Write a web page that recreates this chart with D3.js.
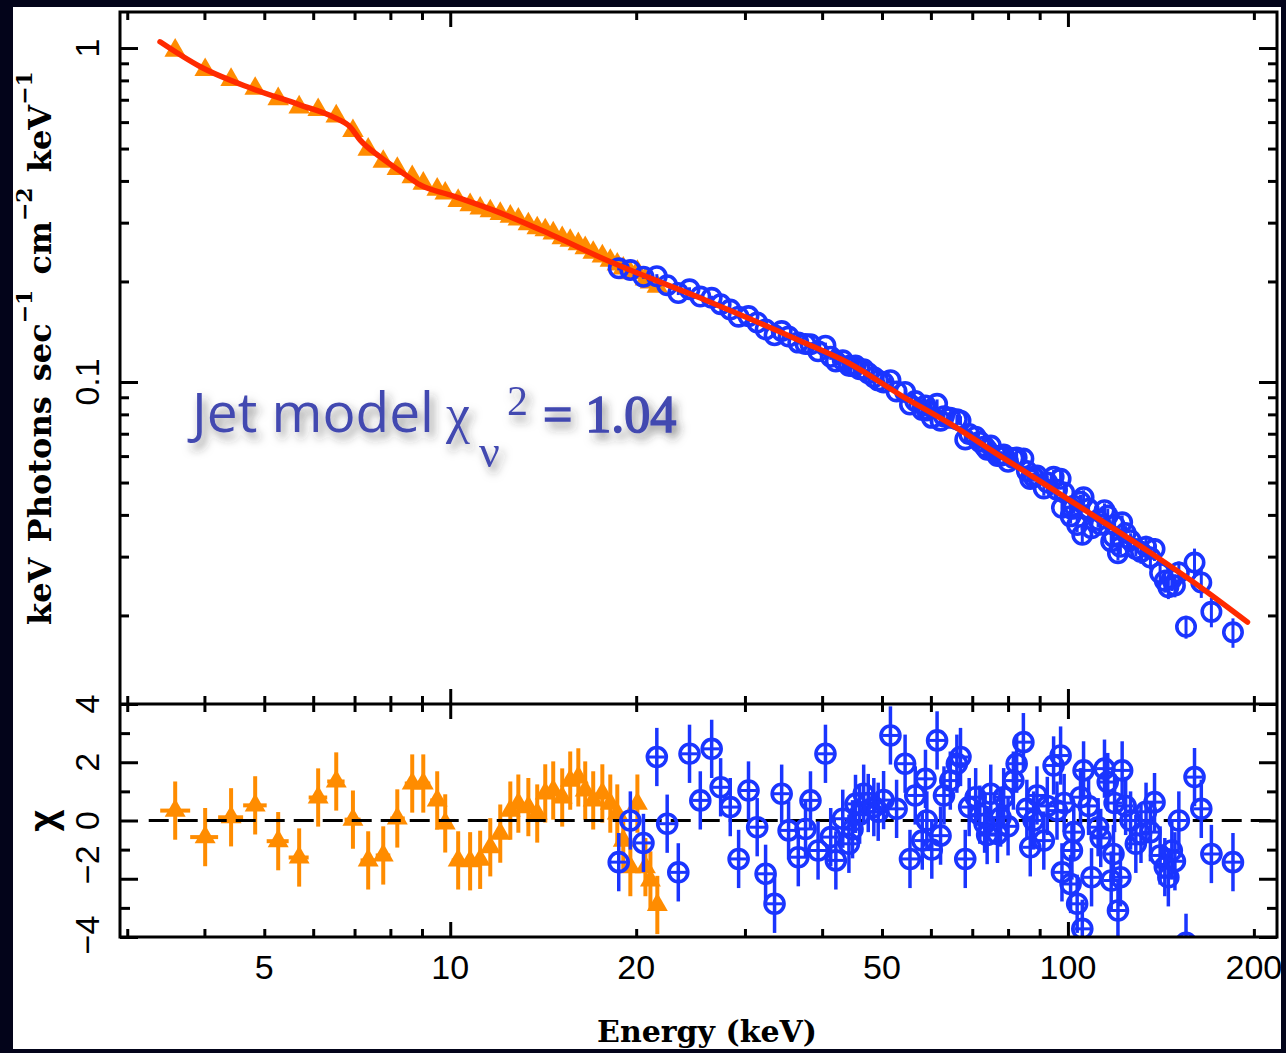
<!DOCTYPE html>
<html>
<head>
<meta charset="utf-8">
<script src="https://cdn.jsdelivr.net/npm/d3@7"></script>
<style>
  html, body { margin: 0; padding: 0; background: #03041a; }
  svg { display: block; }
</style>
</head>
<body>
<script>
// ---- Spectrum data -------------------------------------------------------
// Low-energy instrument (orange triangles): energy (keV), flux, residual (chi)
const lowEnergy = [3.587, 4.011, 4.418, 4.833, 5.266, 5.694, 6.112, 6.538, 6.958, 7.365,
  7.790, 8.209, 8.679, 9.044, 9.526, 9.815, 10.30, 10.77, 11.18, 11.61,
  12.05, 12.51, 12.89, 13.38, 13.83, 14.25, 14.68, 15.18, 15.64, 16.12,
  16.54, 17.04, 17.63, 18.16, 18.64, 19.06, 19.57, 20.09, 20.70, 21.09, 21.64];
const lowFlux = [0.983, 0.860, 0.804, 0.756, 0.704, 0.665, 0.653, 0.625, 0.565, 0.497,
  0.457, 0.435, 0.411, 0.393, 0.377, 0.367, 0.349, 0.339, 0.331, 0.325,
  0.319, 0.313, 0.307, 0.297, 0.289, 0.285, 0.279, 0.270, 0.265, 0.259,
  0.252, 0.244, 0.238, 0.231, 0.225, 0.219, 0.212, 0.214, 0.203, 0.199, 0.193];
const lowChi = [0.34, -0.57, 0.11, 0.52, -0.71, -1.27, 0.79, 1.34, 0.03, -1.37,
  -1.20, 0.07, 1.27, 1.27, 0.69, -0.10, -1.37, -1.40, -1.35, -0.92,
  -0.45, 0.34, 0.58, 0.46, 0.24, 0.93, 1.03, 0.79, 1.37, 1.48,
  1.03, 0.69, 0.93, 0.58, 0.24, -0.69, -1.60, 0.58, -1.60, -2.06, -2.90];
const lowRelErr = 0.014;

// High-energy instrument (blue circles)
const highEnergy = [18.74, 19.57, 20.55, 21.6, 22.45, 23.4, 24.4, 25.4, 26.5, 27.4,
  28.4, 29.3, 30.4, 31.4, 32.4, 33.5, 34.4, 35.3, 36.6, 37.6,
  38.3, 39.4, 40.5, 41.3, 42.1, 43.2, 44.2, 44.8, 45.3, 46.0,
  46.7, 47.5, 48.5, 49.3, 50.3, 51.6, 52.8, 54.5, 55.5, 56.6,
  58.1, 58.8, 59.1, 60.2, 61.4, 62.2, 63.0, 64.5, 66.1, 67.0,
  68.2, 69.2, 70.9, 72.0, 73.3, 74.0, 75.0, 76.9, 77.8, 78.7,
  80.0, 81.6, 82.6, 84.7, 85.8, 86.9, 88.0, 89.1, 91.4, 92.6,
  94.8, 96.0, 97.3, 97.8, 98.6, 101.0, 101.5, 102.2, 103.5, 104.8,
  105.5, 106.0, 108.0, 109.2, 111.9, 113.0, 114.6, 116.0, 117.5, 118.5,
  119.0, 120.5, 121.6, 122.4, 124.0, 126.3, 128.8, 131.3, 133.8, 136.0,
  138.1, 141.0, 143.5, 145.4, 147.3, 149.0, 151.2, 155.3, 160.3, 164.4, 170.7, 185.0];
const highFlux = [0.2190, 0.2164, 0.2066, 0.2074, 0.1949, 0.1847, 0.1895, 0.1802, 0.1787, 0.1710,
  0.1648, 0.1569, 0.1575, 0.1507, 0.1437, 0.1380, 0.1421, 0.1368, 0.1312, 0.1300,
  0.1297, 0.1236, 0.1285, 0.1190, 0.1152, 0.1161, 0.1119, 0.1114, 0.1121, 0.1092,
  0.1091, 0.1062, 0.1034, 0.1011, 0.0996, 0.1013, 0.0937, 0.0934, 0.0856, 0.0877,
  0.0825, 0.0851, 0.0822, 0.0781, 0.0860, 0.0766, 0.0789, 0.0781, 0.0773, 0.0766,
  0.0673, 0.0699, 0.0686, 0.0662, 0.0641, 0.0627, 0.0645, 0.0600, 0.0602, 0.0607,
  0.0577, 0.0592, 0.0594, 0.0590, 0.0541, 0.0512, 0.0519, 0.0525, 0.0480, 0.0500,
  0.0520, 0.0476, 0.0513, 0.0420, 0.0467, 0.0396, 0.0417, 0.0426, 0.0373, 0.0438,
  0.0349, 0.0452, 0.0417, 0.0365, 0.0386, 0.0374, 0.0413, 0.0398, 0.0333, 0.0344,
  0.0373, 0.0307, 0.0321, 0.0380, 0.0353, 0.0336, 0.0316, 0.0310, 0.0321, 0.0298,
  0.0316, 0.0268, 0.0254, 0.0243, 0.0257, 0.0246, 0.0269, 0.0185, 0.0288, 0.0251, 0.0205, 0.0178];
const highChi = [-1.43, 0.00, -0.77, 2.18, -0.11, -1.78, 2.29, 0.69, 2.46, 1.14,
  0.46, -1.32, 1.03, -0.23, -1.83, -2.86, 0.92, -0.34, -1.26, -0.29,
  0.69, -1.03, 2.29, -0.57, -1.37, 0.06, -0.80, -0.30, 0.57, 0.20,
  0.92, 0.60, 0.46, 0.30, 0.70, 2.92, 0.40, 1.95, -1.32, 0.86,
  -0.69, 1.43, 0.00, -1.00, 2.75, -0.52, 0.86, 1.37, 1.95, 2.18,
  -1.32, 0.46, 0.80, 0.20, -0.11, -0.50, 0.92, -0.46, 0.10, 0.80,
  -0.20, 1.37, 1.95, 2.69, 0.40, -0.92, 0.00, 0.86, -0.69, 0.50,
  1.89, 0.34, 2.23, -1.78, 0.60, -2.18, -1.03, -0.40, -2.86, 0.80,
  -3.72, 1.72, 0.50, -1.95, -0.23, -0.60, 1.78, 1.32, -2.06, -1.15,
  0.60, -3.09, -1.95, 1.72, 0.50, 0.00, -0.80, -0.46, 0.30, -0.40,
  0.63, -1.20, -1.60, -1.95, -1.03, -1.40, 0.00, -4.20, 1.49, 0.40, -1.15, -1.43];
// Relative flux error of the high-energy points, by upper energy of the band
const highErrBandEdge = [40, 60, 90, 130, 160, 250];
const highErrBandRel = [0.014, 0.021, 0.031, 0.049, 0.079, 0.101];

// Best-fit jet model curve
const modelEnergy = [3.39, 3.94, 4.75, 5.72, 6.47, 6.89, 7.15, 7.70, 8.39, 8.94,
  10.0, 12.05, 14.52, 18.16, 25.41, 30.60, 36.88, 44.44, 53.55, 64.5,
  77.7, 93.7, 112.9, 136.0, 163.9, 195.3];
const modelFlux = [1.044, 0.879, 0.759, 0.675, 0.621, 0.580, 0.530, 0.472, 0.422, 0.389,
  0.363, 0.321, 0.277, 0.229, 0.1784, 0.1544, 0.1327, 0.1132, 0.0914, 0.0749,
  0.0600, 0.0482, 0.0386, 0.0308, 0.0243, 0.0191];

// Axis ticks and labels
const energyMinorTicks = [3, 4, 5, 6, 7, 8, 9, 20, 30, 40, 50, 60, 70, 80, 90, 200];
const energyMajorTicks = [10, 100];
const energyTickLabels = [5, 10, 20, 50, 100, 200];
const fluxMajorTicks = [1, 0.1];
const fluxMinorTicks = [0.02, 0.03, 0.04, 0.05, 0.06, 0.07, 0.08, 0.09,
  0.2, 0.3, 0.4, 0.5, 0.6, 0.7, 0.8, 0.9];
const fluxTickLabels = ["1", "0.1"];
const chiMajorTicks = [4, 2, 0, -2, -4];
const chiMinorTicks = [-3, -1, 1, 3];
const chiTickLabels = ["4", "2", "0", "\u22122", "\u22124"];

// ---- Layout ---------------------------------------------------------------
const W = 1286, H = 1053;
const pL = 120, pR = 1277, pT = 12, pM = 704, pB = 937;
const ORANGE = "#ff8c00", BLUE = "#1a35ff", RED = "#ff2a00";

const svg = d3.select("body").append("svg")
  .attr("width", W).attr("height", H);

const defs = svg.append("defs");
defs.append("clipPath").attr("id", "page")
  .append("rect").attr("x", 13).attr("y", 7).attr("width", 1268).attr("height", 1042);
defs.append("clipPath").attr("id", "upper")
  .append("rect").attr("x", pL).attr("y", pT).attr("width", pR - pL).attr("height", pM - pT);
defs.append("clipPath").attr("id", "lower")
  .append("rect").attr("x", pL).attr("y", pM).attr("width", pR - pL).attr("height", pB - pM);
const shadow = defs.append("filter").attr("id", "shadow")
  .attr("x", "-10%").attr("y", "-30%").attr("width", "130%").attr("height", "180%");
shadow.append("feDropShadow").attr("dx", 4).attr("dy", 6).attr("stdDeviation", 5)
  .attr("flood-color", "#333").attr("flood-opacity", 0.55);

svg.append("rect").attr("width", W).attr("height", H).attr("fill", "#03041a");
const page = svg.append("g").attr("clip-path", "url(#page)");
page.append("rect").attr("x", 13).attr("y", 7).attr("width", 1268).attr("height", 1042).attr("fill", "#fff");

// ---- Scales ---------------------------------------------------------------
const x = d3.scaleLog().domain([2.92, 218]).range([pL, pR]);
const yF = d3.scaleLog().domain([0.01086, 1.282]).range([pM, pT]);
const yC = d3.scaleLinear().domain([-4, 4]).range([pB, pM]);

// Bin edges half-way (in log space) between neighbouring energies
function binEdges(E) {
  return E.map((e, i) => {
    const prev = i > 0 ? E[i - 1] : e * e / E[i + 1];
    const next = i < E.length - 1 ? E[i + 1] : e * e / E[i - 1];
    return [Math.sqrt(prev * e), Math.sqrt(e * next)];
  });
}
const lowBins = binEdges(lowEnergy);
const highBins = binEdges(highEnergy);
const highRel = e => highErrBandRel[highErrBandEdge.findIndex(b => e < b)];

const lowPts = lowEnergy.map((e, i) => ({ e, f: lowFlux[i], c: lowChi[i], bin: lowBins[i], rel: lowRelErr }));
const highPts = highEnergy.map((e, i) => ({ e, f: highFlux[i], c: highChi[i], bin: highBins[i], rel: highRel(e) }));

const triUp = d3.symbol(d3.symbolTriangle, 200);
const triLo = d3.symbol(d3.symbolTriangle, 190);

// ---- Upper panel: unfolded spectrum --------------------------------------
const up = page.append("g").attr("clip-path", "url(#upper)");

const upLow = up.append("g");
upLow.selectAll("line").data(lowPts).join("line")
  .attr("x1", d => x(d.e)).attr("x2", d => x(d.e))
  .attr("y1", d => yF(d.f * (1 + d.rel))).attr("y2", d => yF(d.f * (1 - d.rel)))
  .attr("stroke", ORANGE).attr("stroke-width", 3);
upLow.selectAll("path").data(lowPts).join("path")
  .attr("d", triUp).attr("transform", d => `translate(${x(d.e)},${yF(d.f)})`)
  .attr("fill", ORANGE);

const upHigh = up.append("g");
upHigh.selectAll("line").data(highPts).join("line")
  .attr("x1", d => x(d.e)).attr("x2", d => x(d.e))
  .attr("y1", d => yF(d.f * (1 + d.rel))).attr("y2", d => yF(d.f * (1 - d.rel)))
  .attr("stroke", BLUE).attr("stroke-width", 3);
upHigh.selectAll("circle").data(highPts).join("circle")
  .attr("cx", d => x(d.e)).attr("cy", d => yF(d.f)).attr("r", 9.2)
  .attr("fill", "none").attr("stroke", BLUE).attr("stroke-width", 3.6);

const model = modelEnergy.map((e, i) => [e, modelFlux[i]]);
up.append("path").datum(model)
  .attr("d", d3.line().x(d => x(d[0])).y(d => yF(d[1])).curve(d3.curveMonotoneX))
  .attr("fill", "none").attr("stroke", RED).attr("stroke-width", 5.5)
  .attr("stroke-linecap", "round").attr("stroke-linejoin", "round");

// ---- Lower panel: residuals ---------------------------------------------
const lo = page.append("g").attr("clip-path", "url(#lower)");

const loLow = lo.append("g");
loLow.selectAll("line.v").data(lowPts).join("line").attr("class", "v")
  .attr("x1", d => x(d.e)).attr("x2", d => x(d.e))
  .attr("y1", d => yC(d.c + 1)).attr("y2", d => yC(d.c - 1))
  .attr("stroke", ORANGE).attr("stroke-width", 4);
loLow.selectAll("line.h").data(lowPts).join("line").attr("class", "h")
  .attr("x1", d => x(d.bin[0])).attr("x2", d => x(d.bin[1]))
  .attr("y1", d => yC(d.c)).attr("y2", d => yC(d.c))
  .attr("stroke", ORANGE).attr("stroke-width", 4);
loLow.selectAll("path").data(lowPts).join("path")
  .attr("d", triLo).attr("transform", d => `translate(${x(d.e)},${yC(d.c)})`)
  .attr("fill", ORANGE);

lo.append("line")
  .attr("x1", x(3.25)).attr("x2", pR).attr("y1", yC(0)).attr("y2", yC(0))
  .attr("stroke", "#000").attr("stroke-width", 3).attr("stroke-dasharray", "20 9");

const loHigh = lo.append("g");
loHigh.selectAll("line.v").data(highPts).join("line").attr("class", "v")
  .attr("x1", d => x(d.e)).attr("x2", d => x(d.e))
  .attr("y1", d => yC(d.c + 1)).attr("y2", d => yC(d.c - 1))
  .attr("stroke", BLUE).attr("stroke-width", 3.5);
loHigh.selectAll("line.h").data(highPts).join("line").attr("class", "h")
  .attr("x1", d => Math.min(x(d.bin[0]), x(d.e) - 8)).attr("x2", d => Math.max(x(d.bin[1]), x(d.e) + 8))
  .attr("y1", d => yC(d.c)).attr("y2", d => yC(d.c))
  .attr("stroke", BLUE).attr("stroke-width", 3);
loHigh.selectAll("circle").data(highPts).join("circle")
  .attr("cx", d => x(d.e)).attr("cy", d => yC(d.c)).attr("r", 9.5)
  .attr("fill", "none").attr("stroke", BLUE).attr("stroke-width", 3.6);

// ---- Frame and ticks -----------------------------------------------------
const axes = page.append("g");
function ticks(axisFn, scale, values, len, tx, ty) {
  axes.append("g").attr("transform", `translate(${tx},${ty})`)
    .call(axisFn(scale).tickValues(values).tickSize(-len).tickFormat(""))
    .call(g => g.select(".domain").remove())
    .call(g => g.selectAll("line").attr("stroke", "#000").attr("stroke-width", 3));
}
// energy axis ticks on every horizontal edge
[[d3.axisTop, pT], [d3.axisBottom, pM], [d3.axisTop, pM], [d3.axisBottom, pB]].forEach(([fn, yy]) => {
  ticks(fn, x, energyMinorTicks, 8, 0, yy);
  ticks(fn, x, energyMajorTicks, 15, 0, yy);
});
// flux axis ticks
ticks(d3.axisLeft, yF, fluxMinorTicks, 9, pL, 0);
ticks(d3.axisLeft, yF, fluxMajorTicks, 18, pL, 0);
ticks(d3.axisRight, yF, fluxMinorTicks, 9, pR, 0);
ticks(d3.axisRight, yF, fluxMajorTicks, 18, pR, 0);
// chi axis ticks
ticks(d3.axisLeft, yC, chiMinorTicks, 10, pL, 0);
ticks(d3.axisLeft, yC, chiMajorTicks, 18, pL, 0);
ticks(d3.axisRight, yC, chiMinorTicks, 10, pR, 0);
ticks(d3.axisRight, yC, chiMajorTicks, 18, pR, 0);

axes.append("rect").attr("x", pL).attr("y", pT)
  .attr("width", pR - pL).attr("height", pB - pT)
  .attr("fill", "none").attr("stroke", "#000").attr("stroke-width", 3);
axes.append("line").attr("x1", pL).attr("x2", pR).attr("y1", pM).attr("y2", pM)
  .attr("stroke", "#000").attr("stroke-width", 3);

// ---- Tick labels ---------------------------------------------------------
const labelFont = "'Liberation Sans', Arial, Helvetica, sans-serif";
axes.selectAll("text.xl").data(energyTickLabels).join("text").attr("class", "xl")
  .attr("x", d => x(d)).attr("y", 979)
  .attr("text-anchor", "middle").attr("font-family", labelFont).attr("font-size", 34)
  .attr("fill", "#000").text(d => d);

axes.selectAll("text.yf").data(fluxMajorTicks).join("text").attr("class", "yf")
  .attr("transform", d => `translate(99,${yF(d)}) rotate(-90)`)
  .attr("text-anchor", "middle").attr("font-family", labelFont).attr("font-size", 34)
  .attr("fill", "#000").text((d, i) => fluxTickLabels[i]);

const chiLabelShift = { "-2": -14, "-4": -2 };
axes.selectAll("text.yc").data(chiMajorTicks).join("text").attr("class", "yc")
  .attr("transform", d => `translate(99,${yC(d) + (chiLabelShift[d] || 0)}) rotate(-90)`)
  .attr("text-anchor", "middle").attr("font-family", labelFont).attr("font-size", 34)
  .attr("fill", "#000").text((d, i) => chiTickLabels[i]);

// ---- Axis titles ---------------------------------------------------------
const titleFont = "'DejaVu Serif', serif";
axes.append("text").attr("x", 707).attr("y", 1042)
  .attr("text-anchor", "middle").attr("font-family", titleFont).attr("font-weight", "bold")
  .attr("font-size", 30).attr("fill", "#000").text("Energy (keV)");

const yTitle = axes.append("text")
  .attr("transform", "translate(51,348) rotate(-90)")
  .attr("text-anchor", "middle").attr("font-family", titleFont).attr("font-weight", "bold")
  .attr("font-size", 32).attr("fill", "#000").attr("word-spacing", 4);
[["keV Photons sec", 0, 32], ["\u22121", -19, 22], [" cm", 19, 32], ["\u22122", -19, 22],
 [" keV", 19, 32], ["\u22121", -19, 22]].forEach(([t, dy, fs]) => {
  yTitle.append("tspan").attr("dy", dy).attr("font-size", fs).text(t);
});

axes.append("text")
  .attr("transform", `translate(43,${yC(0)}) rotate(-90)`)
  .attr("text-anchor", "middle").attr("dominant-baseline", "central")
  .attr("font-family", labelFont).attr("font-weight", "bold")
  .attr("font-size", 38).attr("fill", "#000").text("\u03c7");

// ---- Fit-quality annotation ----------------------------------------------
const note = page.append("g").attr("filter", "url(#shadow)").attr("fill", "#4248b0");
note.append("text").attr("x", 192).attr("y", 432)
  .attr("font-family", "'Open Sans', sans-serif").attr("font-size", 55).text("Jet model");
note.append("text").attr("x", 446).attr("y", 432)
  .attr("font-family", "'Liberation Serif', serif").attr("font-size", 54).text("\u03c7");
note.append("text").attr("x", 479).attr("y", 467)
  .attr("font-family", "'Liberation Serif', serif").attr("font-size", 46).text("\u03bd");
note.append("text").attr("x", 507).attr("y", 415)
  .attr("font-family", "'Liberation Serif', serif").attr("font-size", 42).text("2");
note.append("text").attr("x", 543).attr("y", 432)
  .attr("font-family", "'Liberation Serif', serif").attr("font-size", 52)
  .attr("stroke", "#4248b0").attr("stroke-width", 1.6).text("= 1.04");
</script>
</body>
</html>
